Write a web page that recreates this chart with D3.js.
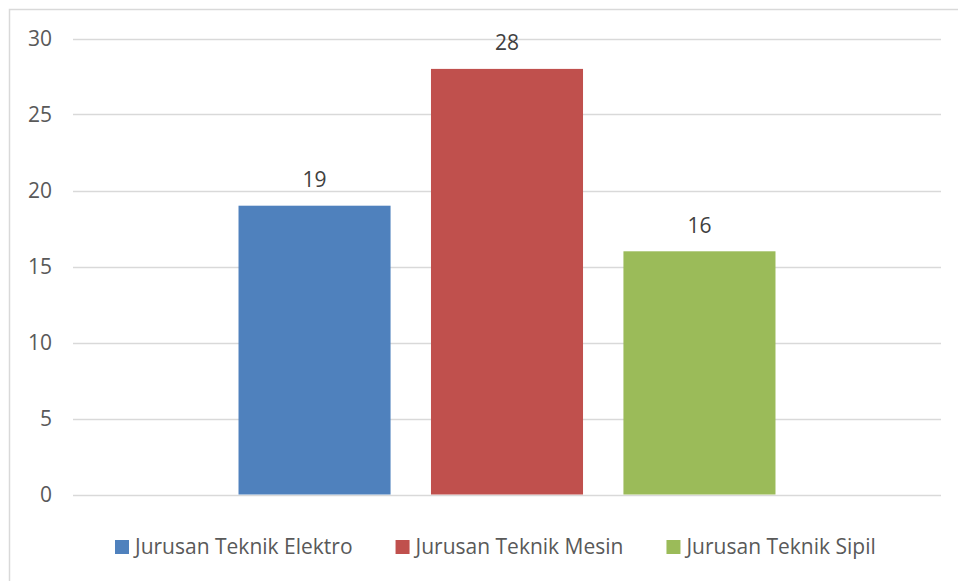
<!DOCTYPE html>
<html>
<head>
<meta charset="utf-8">
<script src="https://cdn.jsdelivr.net/npm/d3@7"></script>
<style>
  body { margin: 0; background: #fff; }
  text { font-family: "Open Sans", sans-serif; }
</style>
</head>
<body>
<div id="chart"></div>
<script>
var width = 958,
    height = 581;

// data
var seriesNames = ["Jurusan Teknik Elektro", "Jurusan Teknik Mesin", "Jurusan Teknik Sipil"];
var seriesValues = [19, 28, 16];
var seriesColors = ["#4f81bd", "#c0504d", "#9bbb59"];
var yTicks = [0, 5, 10, 15, 20, 25, 30];

var plot = {left: 73, right: 941, top: 38.5, bottom: 494.5};
var fontSize = "21px";

var svg = d3.select("#chart").append("svg").attr("width", width).attr("height", height);

// outer chart border
svg.append("rect").attr("x", 9.5).attr("y", 9.5).attr("width", 1000).attr("height", 1000)
    .attr("fill", "none").attr("stroke", "#d9d9d9").attr("stroke-width", 1.5);

var y = d3.scaleLinear().domain([0, 30]).range([plot.bottom, plot.top]);
var x = d3.scaleBand().domain(seriesNames).range([plot.left, plot.right])
    .paddingInner(0.21).paddingOuter(0.86);

// gridlines
svg.selectAll(".grid").data(yTicks).enter().append("line")
    .attr("x1", plot.left).attr("x2", plot.right)
    .attr("y1", d => Math.round(y(d)) + 0.5).attr("y2", d => Math.round(y(d)) + 0.5)
    .attr("stroke", "#d9d9d9").attr("stroke-width", 1.5);

// y tick labels
svg.selectAll(".ytick").data(yTicks).enter().append("text")
    .attr("x", 52).attr("y", d => y(d)).attr("dy", "0.35em")
    .attr("text-anchor", "end").attr("fill", "#595959").style("font-size", fontSize)
    .text(d => d);

// bars
svg.selectAll(".bar").data(seriesValues).enter().append("rect")
    .attr("x", (d, i) => x(seriesNames[i]))
    .attr("width", x.bandwidth())
    .attr("y", d => y(d))
    .attr("height", d => y(0) - y(d))
    .attr("fill", (d, i) => seriesColors[i]);

// value labels
svg.selectAll(".val").data(seriesValues).enter().append("text")
    .attr("x", (d, i) => x(seriesNames[i]) + x.bandwidth() / 2)
    .attr("y", d => y(d) - 18.5)
    .attr("text-anchor", "middle").attr("fill", "#404040").style("font-size", fontSize)
    .text(d => d);

// legend
var legend = svg.append("g");
var lx = 115;
seriesNames.forEach(function(name, i) {
    legend.append("rect").attr("x", lx).attr("y", 540).attr("width", 14).attr("height", 14)
        .attr("fill", seriesColors[i]);
    var t = legend.append("text").attr("x", lx + 20).attr("y", 547).attr("dy", "0.35em")
        .attr("fill", "#595959").style("font-size", fontSize).text(name);
    lx += 20 + t.node().getComputedTextLength() + 43;
});
</script>
</body>
</html>
